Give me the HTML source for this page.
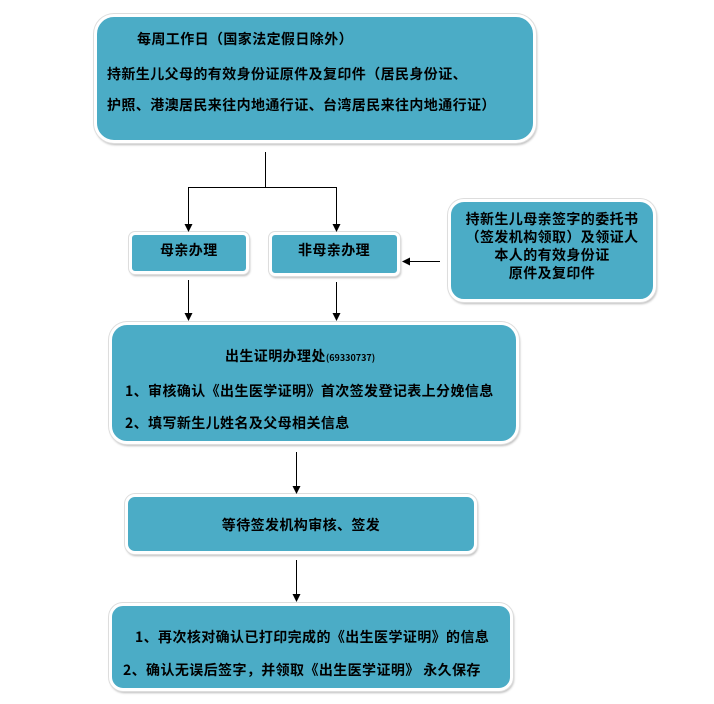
<!DOCTYPE html>
<html><head><meta charset="utf-8"><style>
body{margin:0;width:714px;height:704px;background:#fff;position:relative;overflow:hidden;font-family:"Noto Sans CJK SC",sans-serif;font-weight:bold;color:#000}
.b{position:absolute;background:#4bacc6;border:3px solid #fff;box-shadow:0 0 0 1px #ddd,1px 2px 2px #bbb;box-sizing:border-box}
.t{position:absolute;font-size:14px;letter-spacing:0.4px;white-space:nowrap;line-height:16px}
svg{position:absolute;left:0;top:0}
</style></head><body>
<div class="b" style="left:94px;top:14px;width:442px;height:129px;border-radius:20px"></div>
<div class="t" style="left:137px;top:31px">每周工作日（国家法定假日除外）</div>
<div class="t" style="left:107px;top:66px">持新生儿父母的有效身份证原件及复印件（居民身份证、</div>
<div class="t" style="left:107px;top:97px">护照、港澳居民来往内地通行证、台湾居民来往内地通行证）</div>

<div class="b" style="left:129px;top:232px;width:120px;height:42px;border-radius:6px"></div>
<div class="t" style="left:160px;top:242px">母亲办理</div>
<div class="b" style="left:269px;top:232px;width:131px;height:44px;border-radius:6px"></div>
<div class="t" style="left:298px;top:242px">非母亲办理</div>

<div class="b" style="left:448px;top:199px;width:208px;height:103px;border-radius:16px"></div>
<div class="t" style="left:448px;width:208px;text-align:center;top:211px">持新生儿母亲签字的委托书</div>
<div class="t" style="left:448px;width:208px;text-align:center;top:229px">（签发机构领取）及领证人</div>
<div class="t" style="left:448px;width:208px;text-align:center;top:247px">本人的有效身份证</div>
<div class="t" style="left:448px;width:208px;text-align:center;top:265px">原件及复印件</div>

<div class="b" style="left:109px;top:322px;width:410px;height:122px;border-radius:18px"></div>
<div class="t" style="left:225px;top:348px">出生证明办理处<span style="font-size:9px;letter-spacing:0">(69330737)</span></div>
<div class="t" style="left:125px;top:383px">1、审核确认《出生医学证明》首次签发登记表上分娩信息</div>
<div class="t" style="left:125px;top:415px">2、填写新生儿姓名及父母相关信息</div>

<div class="b" style="left:125px;top:494px;width:352px;height:60px;border-radius:10px"></div>
<div class="t" style="left:125px;width:352px;text-align:center;top:517px">等待签发机构审核、签发</div>

<div class="b" style="left:109px;top:603px;width:404px;height:88px;border-radius:14px"></div>
<div class="t" style="left:135px;top:629px">1、再次核对确认已打印完成的《出生医学证明》的信息</div>
<div class="t" style="left:123px;top:662px">2、确认无误后签字，并领取《出生医学证明》 永久保存</div>

<svg width="714" height="704">
<g stroke="#000" stroke-width="1" fill="none">
<path d="M265.5,152 V187.5 H188.5 V231"/>
<path d="M265.5,187.5 H336.5 V231"/>
<path d="M188.5,280 V320"/>
<path d="M336.5,282 V320"/>
<path d="M296.5,452 V493"/>
<path d="M296.5,560 V601"/>
<path d="M440,261.5 H404"/>
</g>
<g fill="#000">
<path d="M184.5,224 L192.5,224 L188.5,232z"/>
<path d="M332.5,224 L340.5,224 L336.5,232z"/>
<path d="M184.5,313 L192.5,313 L188.5,321z"/>
<path d="M332.5,313 L340.5,313 L336.5,321z"/>
<path d="M292.5,486 L300.5,486 L296.5,494z"/>
<path d="M292.5,594 L300.5,594 L296.5,602z"/>
<path d="M410,257.5 L410,265.5 L402,261.5z"/>
</g>
</svg>
</body></html>
